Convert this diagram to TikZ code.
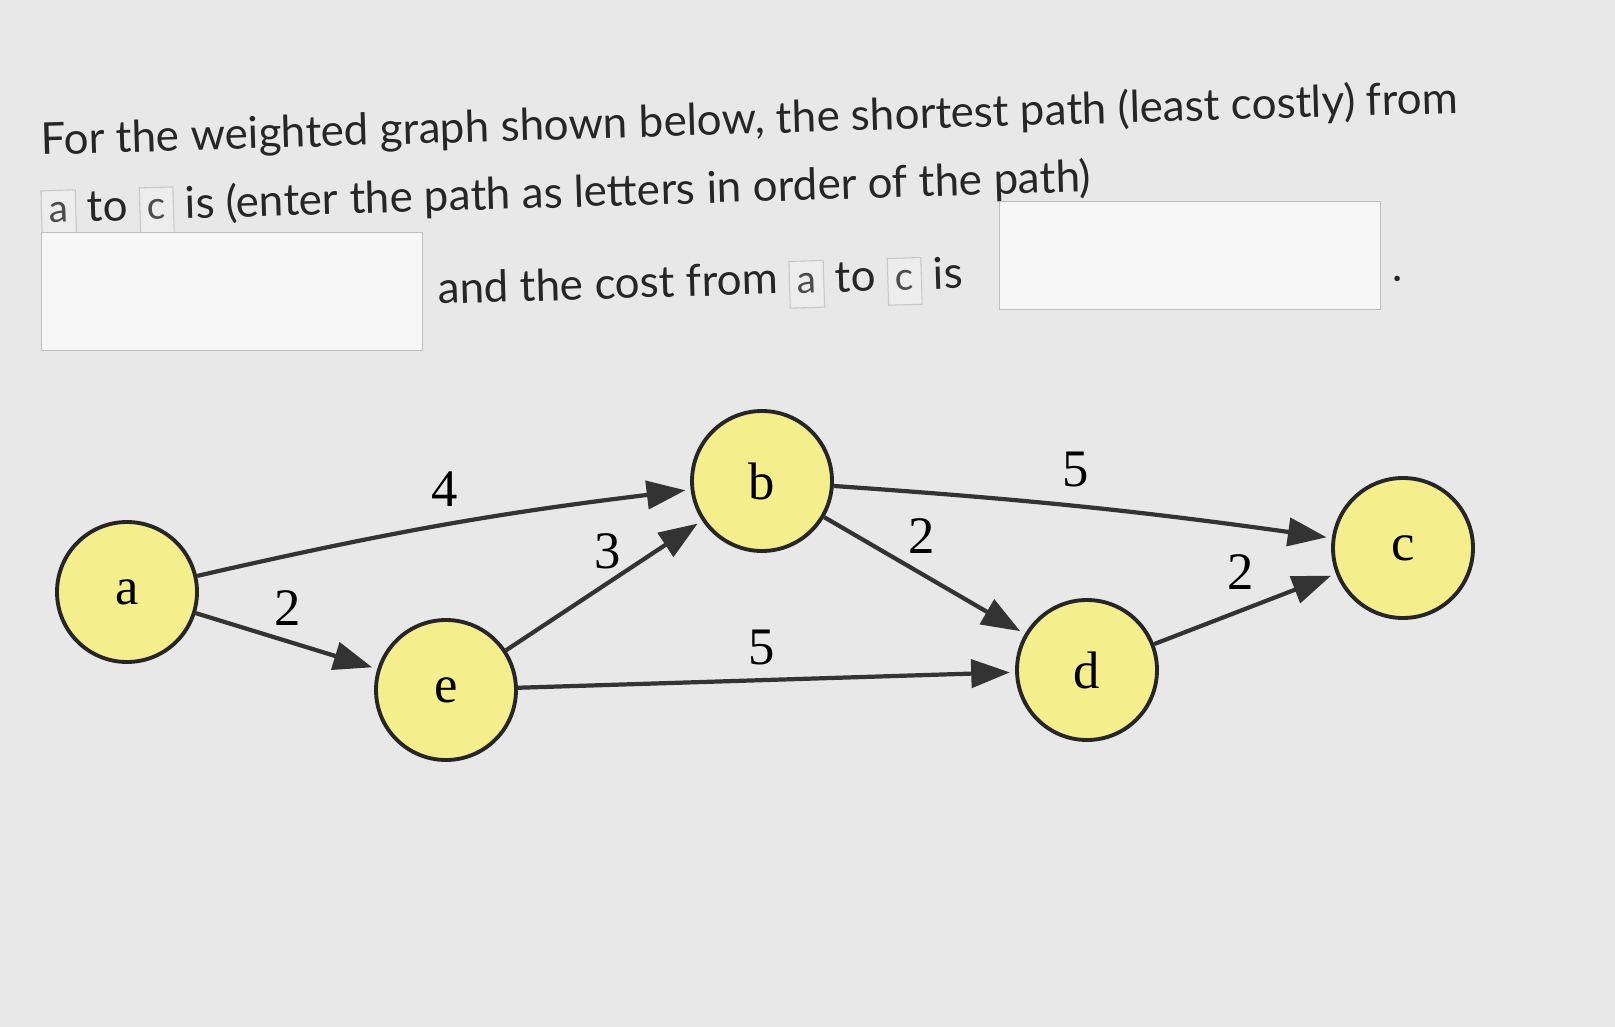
\documentclass[tikz,border=0pt]{standalone}
\usepackage{fontspec}
\setmainfont{Lato}
\newfontfamily\graphfont{Liberation Serif}
\usetikzlibrary{arrows.meta}
\newcommand{\mychip}[1]{{\setlength\fboxsep{4pt}\setlength\fboxrule{0.6pt}\fcolorbox{black!22}{black!7}{\raisebox{0pt}[14pt][4pt]{\fontsize{22}{22}\selectfont\color{black!70}#1}}}}
\begin{document}
\begin{tikzpicture}[x=0.02cm,y=-0.02cm,
  vert/.style={circle,draw=black!85,line width=2.2pt,fill=yellow!45!white!95!black,minimum size=140*0.02cm,inner sep=0pt,font=\graphfont\fontsize{30}{30}\selectfont},
  edge/.style={draw=black!80,line width=2.4pt,-{Triangle[length=22pt,width=16pt]},shorten >=3pt},
  wlab/.style={font=\graphfont\fontsize{30}{30}\selectfont},
  qtext/.style={anchor=base west,inner sep=0pt,rotate=1.7,font=\fontsize{25}{25}\selectfont,text=black!85},
  ansbox/.style={draw=black!25,fill=black!3}]
\fill[black!9] (0,0) rectangle (1615,1027);
\useasboundingbox (0,0) rectangle (1615,1027);
% question text
\node[qtext] (l1) at (41,155) {For the weighted graph shown below, the shortest path (least costly) from};
\node[qtext] (l2) at (41,223) {\mychip{a} to \mychip{c} is (enter the path as letters in order of the path)};
\draw[ansbox] (41,232) rectangle (422,350);
\node[qtext] (l3) at (438,304) {and the cost from \mychip{a} to \mychip{c} is};
\draw[ansbox] (999,201) rectangle (1380,309);
\node[qtext] (dot) at (1392,282) {.};
% graph
\node[vert] (a) at (127,592) {a};
\node[vert] (b) at (762,481) {b};
\node[vert] (c) at (1403,548) {c};
\node[vert] (d) at (1087,670) {d};
\node[vert] (e) at (446,690) {e};
\draw[edge] (a) to[bend left=3] (b);
\draw[edge] (a) -- (e);
\draw[edge] (e) -- (b);
\draw[edge] (b) to[bend left=2] (c);
\draw[edge] (b) -- (d);
\draw[edge] (e) -- (d);
\draw[edge] (d) -- (c);
\node[wlab] (w1) at (445,489) {4};
\node[wlab] (w2) at (288,608) {2};
\node[wlab] (w3) at (608,551) {3};
\node[wlab] (w4) at (922,536) {2};
\node[wlab] (w5) at (1076,469) {5};
\node[wlab] (w6) at (762,647) {5};
\node[wlab] (w7) at (1241,572) {2};
\end{tikzpicture}
\end{document}
